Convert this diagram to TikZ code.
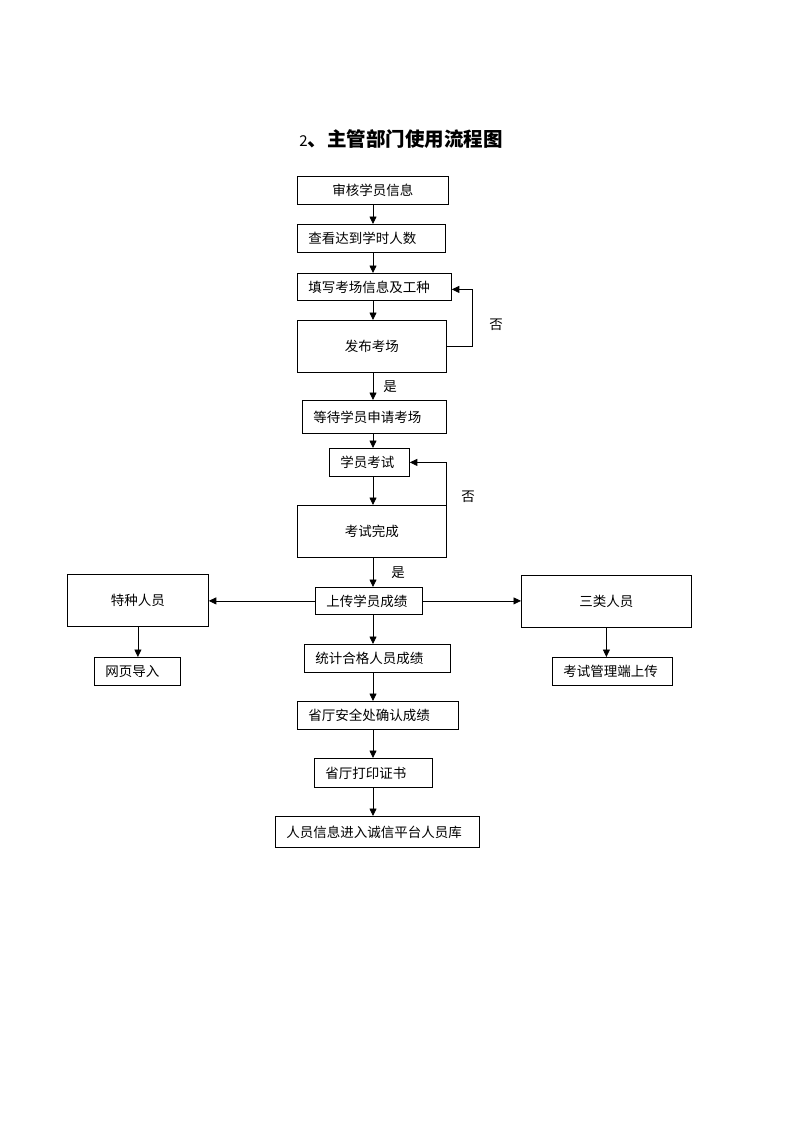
\documentclass[tikz,border=0pt]{standalone}
\usepackage{fontspec}
\newfontfamily\cjk{Noto Sans CJK SC}
\usetikzlibrary{arrows.meta}
\begin{document}
\begin{tikzpicture}[x=1pt,y=-1pt,
  base/.style={draw=black, line width=0.8pt, inner sep=0pt, anchor=north west,
    font=\cjk\fontsize{13.5}{16}\selectfont},
  cbox/.style 2 args={base, minimum width=#1, minimum height=#2, align=center},
  lbox/.style 2 args={base, inner xsep=11pt, inner ysep=0pt, text width=#1, minimum height=#2, align=left},
  arr/.style={line width=0.8pt, -{Triangle[length=7.5pt,width=7pt]}},
  lab/.style={font=\cjk\fontsize{13.5}{16}\selectfont, inner sep=0pt}]
\useasboundingbox (0,0) rectangle (800,1132);
\coordinate (spine) at (373,0);
\node[font=\cjk\bfseries\fontsize{19.5}{22}\selectfont] (title) at (401,139) {{\mdseries\fontsize{15}{22}\selectfont 2}、主管部门使用流程图};
\node[cbox={151pt}{28pt}] (b1) at (297,176) {审核学员信息};
\node[lbox={126pt}{28pt}] (b2) at (297,224) {查看达到学时人数};
\node[lbox={132pt}{27pt}] (b3) at (297,273) {填写考场信息及工种};
\node[cbox={149pt}{52pt}] (b4) at (297,320) {发布考场};
\node[lbox={122pt}{33pt}] (b5) at (302,400) {等待学员申请考场};
\node[lbox={58pt}{28pt}] (b6) at (329,448) {学员考试};
\node[cbox={149pt}{52pt}] (b7) at (297,505) {考试完成};
\node[lbox={85pt}{27pt}, inner xsep=11pt] (b8) at (315,587) {上传学员成绩};
\node[cbox={141pt}{52pt}] (b9) at (67,574) {特种人员};
\node[lbox={64pt}{28pt}] (b10) at (94,657) {网页导入};
\node[cbox={170pt}{52pt}] (b11) at (521,575) {三类人员};
\node[lbox={98pt}{28pt}] (b12) at (552,657) {考试管理端上传};
\node[lbox={124pt}{28pt}] (b13) at (304,644) {统计合格人员成绩};
\node[lbox={139pt}{28pt}] (b14) at (297,701) {省厅安全处确认成绩};
\node[lbox={96pt}{29pt}] (b15) at (314,758) {省厅打印证书};
\node[lbox={182pt}{31pt}] (b16) at (275,816) {人员信息进入诚信平台人员库};
% main spine
\draw[arr] (b1.south -| spine) -- (b2.north -| spine);
\draw[arr] (b2.south -| spine) -- (b3.north -| spine);
\draw[arr] (b3.south -| spine) -- (b4.north -| spine);
\draw[arr] (b4.south -| spine) -- (b5.north -| spine);
\draw[arr] (b5.south -| spine) -- (b6.north -| spine);
\draw[arr] (b6.south -| spine) -- (b7.north -| spine);
\draw[arr] (b7.south -| spine) -- (b8.north -| spine);
\draw[arr] (b8.south -| spine) -- (b13.north -| spine);
\draw[arr] (b13.south -| spine) -- (b14.north -| spine);
\draw[arr] (b14.south -| spine) -- (b15.north -| spine);
\draw[arr] (b15.south -| spine) -- (b16.north -| spine);
% loops
\draw[arr] (b4.east) -- ++(26,0) |- ([yshift=-2.5pt]b3.east);
\draw[arr] (b7.east) -- (b7.east |- b6.east) -- (b6.east);
% side branches
\draw[arr] (b8.west) -- (b9.east |- b8.west);
\draw[arr] (b8.east) -- (b11.west |- b8.east);
\draw[arr] (b9.south) -- (b10.north -| b9.south);
\draw[arr] (b11.south) -- (b12.north -| b11.south);
% labels
\node[lab] (no1) at (496,325) {否};
\node[lab] (no2) at (468,497) {否};
\node[lab] (yes1) at (390,387) {是};
\node[lab] (yes2) at (398,573) {是};
\end{tikzpicture}
\end{document}
